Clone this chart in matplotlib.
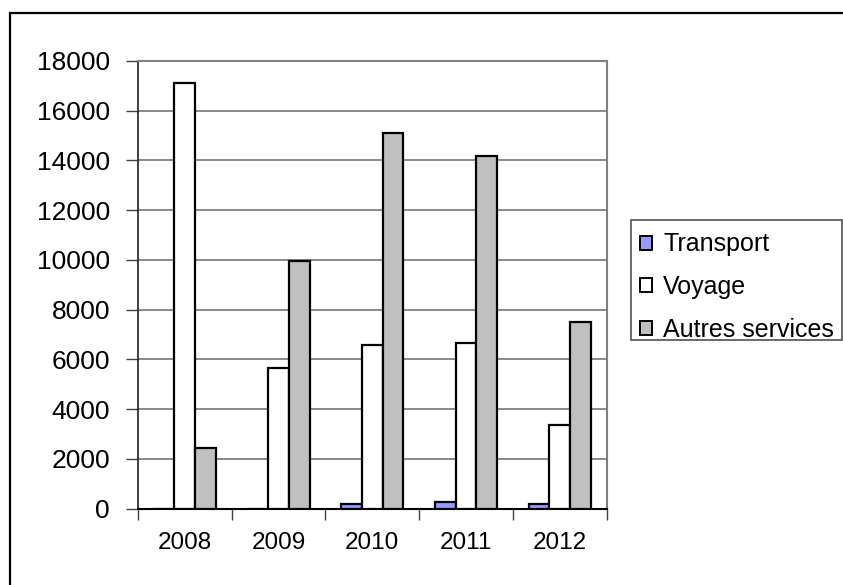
import matplotlib
matplotlib.use("Agg")
import matplotlib.pyplot as plt
from matplotlib.patches import Rectangle
import numpy as np

plt.rcParams['font.family'] = ['Liberation Sans', 'DejaVu Sans']

years = ["2008", "2009", "2010", "2011", "2012"]
series_names = ["Transport", "Voyage", "Autres services"]
transport = [0, 0, 180, 270, 180]
voyage = [17100, 5660, 6580, 6670, 3380]
autres = [2450, 9950, 15100, 14200, 7500]
colors = ["#9999FF", "#FFFFFF", "#C0C0C0"]
yticks = [0, 2000, 4000, 6000, 8000, 10000, 12000, 14000, 16000, 18000]

W, H = 843, 585
fig = plt.figure(figsize=(W / 100, H / 100), dpi=100)

# outer chart frame (runs off the right and bottom edges)
fig.patches.append(Rectangle((10 / W, -0.05), 1.1, 1 - 13 / H + 0.05,
                             transform=fig.transFigure, fill=False,
                             edgecolor="black", linewidth=1.6, zorder=-2))

# legend box outline
fig.patches.append(Rectangle((631 / W, 1 - 340 / H), (842 - 631) / W, 120 / H,
                             transform=fig.transFigure, fill=False,
                             edgecolor="#505050", linewidth=1.2, zorder=-1))

ax = fig.add_axes([137.7 / W, 1 - 508.7 / H, (606.7 - 137.7) / W, (508.7 - 61) / H])

x = np.arange(len(years))
bw = 1 / 4.5
data = [transport, voyage, autres]
handles = []
for i, (vals, c, name) in enumerate(zip(data, colors, series_names)):
    b = ax.bar(x + (i - 1) * bw, vals, width=bw, color=c, edgecolor="black",
               linewidth=1.6, label=name, zorder=3)
    handles.append(b)

ax.set_xlim(-0.5, len(years) - 0.5)
ax.set_ylim(0, 18000)
ax.set_yticks(yticks)
ax.set_yticklabels([str(v) for v in yticks], fontsize=19)
ax.yaxis.grid(True, color="#808080", linewidth=1.3, zorder=0)
ax.set_axisbelow(True)

ax.set_xticks(x)
ax.set_xticklabels(years, fontsize=17.5)
ax.set_xticks(np.arange(len(years) + 1) - 0.5, minor=True)
ax.tick_params(axis="x", which="major", length=0, pad=17)
ax.tick_params(axis="x", which="minor", length=8, width=1, color="#404040", direction="out")
ax.tick_params(axis="y", length=9, width=1, color="#404040", direction="out", pad=11)

for s in ["top", "right"]:
    ax.spines[s].set_color("#808080")
    ax.spines[s].set_linewidth(1.5)
ax.spines["left"].set_color("#202020")
ax.spines["bottom"].set_color("#000000")
ax.spines["left"].set_linewidth(1.2)
ax.spines["bottom"].set_linewidth(1.5)

leg = ax.legend(handles=handles, labels=series_names, loc="upper left",
                bbox_to_anchor=(640 / W, 1 - 232.5 / H), bbox_transform=fig.transFigure,
                fontsize=18, frameon=False,
                handlelength=0.48, handleheight=0.48, handletextpad=0.45,
                labelspacing=0.75, borderpad=0, borderaxespad=0)
for p in leg.get_patches():
    p.set_linewidth(1.4)

fig.savefig("out.png", dpi=100)
